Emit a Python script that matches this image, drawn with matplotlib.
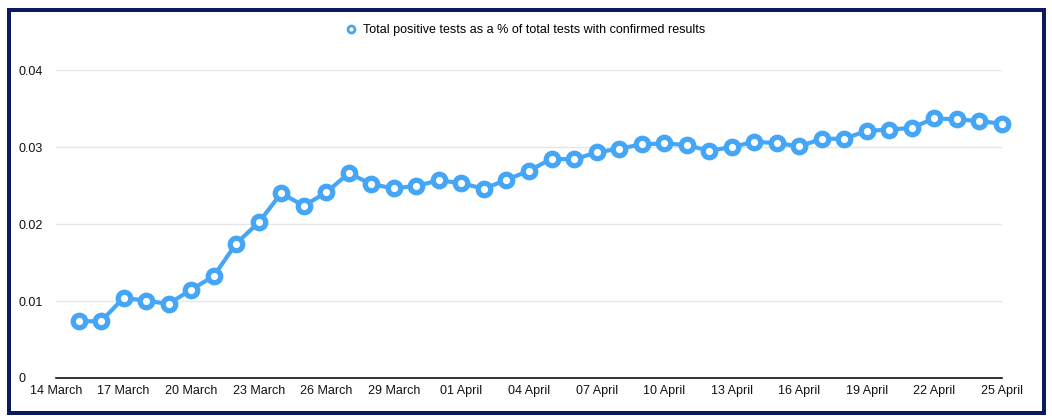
import matplotlib
matplotlib.use("Agg")
import matplotlib.pyplot as plt
from matplotlib.lines import Line2D
import matplotlib.patches as patches
import datetime as dt

plt.rcParams['font.family'] = ['Liberation Sans', 'DejaVu Sans']

series_label = "Total positive tests as a % of total tests with confirmed results"
start_date = dt.date(2020, 3, 15)
values = [0.00737, 0.00737, 0.0104, 0.01005, 0.00962, 0.01148, 0.01322, 0.01746,
          0.0202, 0.0240, 0.02236, 0.0241, 0.0266, 0.02518, 0.02462, 0.02496, 0.02566,
          0.02531, 0.02457, 0.02574, 0.02691, 0.02847, 0.02839, 0.0293, 0.02977,
          0.03034, 0.03047, 0.03025, 0.02951, 0.02999, 0.03068, 0.03051, 0.03008,
          0.03107, 0.03107, 0.03211, 0.03224, 0.0325, 0.03372, 0.03359, 0.03337, 0.03302]
dates = [start_date + dt.timedelta(days=i) for i in range(len(values))]
xtick_dates = [dt.date(2020, 3, 14) + dt.timedelta(days=3 * i) for i in range(15)]
xtick_labels = ["14 March", "17 March", "20 March", "23 March", "26 March", "29 March",
                "01 April", "04 April", "07 April", "10 April", "13 April", "16 April",
                "19 April", "22 April", "25 April"]
yticks = [0, 0.01, 0.02, 0.03, 0.04]
ytick_labels = ["0", "0.01", "0.02", "0.03", "0.04"]

W, H = 1052, 420
fig = plt.figure(figsize=(W / 100, H / 100), dpi=100)
fig.patch.set_facecolor('white')

# navy border (pixel coordinates, origin bottom-left)
border_color = '#0b1a5c'
fig.add_artist(patches.Rectangle((9 / W, 7 / H), (1044 - 9) / W, (410 - 7) / H,
                                 transform=fig.transFigure, fill=False,
                                 edgecolor=border_color, linewidth=4 * 0.72,
                                 joinstyle='miter', zorder=10))

ax = fig.add_axes([56 / W, 42 / H, (1002 - 56) / W, (378 - 70) / H])
blue = '#45a6f7'
ax.plot(dates, values, color=blue, linewidth=3, marker='o', markersize=9,
        markerfacecolor='white', markeredgecolor=blue, markeredgewidth=3.8,
        clip_on=False, zorder=3)

ax.set_xlim(dt.date(2020, 3, 14), dt.date(2020, 4, 25))
ax.set_ylim(0, 0.04)
ax.set_xticks(xtick_dates)
ax.set_xticklabels(xtick_labels)
ax.set_yticks(yticks)
ax.set_yticklabels(ytick_labels)
ax.tick_params(axis='both', length=0, labelsize=9, colors='#111111')
ax.tick_params(axis='x', pad=5)
ax.tick_params(axis='y', pad=27)
for lbl in ax.get_yticklabels():
    lbl.set_horizontalalignment('left')

ax.grid(axis='y', color='#e6e6e6', linewidth=1)
ax.set_axisbelow(True)
for s in ['left', 'right', 'top']:
    ax.spines[s].set_visible(False)
ax.spines['bottom'].set_color('#111111')
ax.spines['bottom'].set_linewidth(1.2)
ax.spines['bottom'].set_zorder(4)

handle = Line2D([], [], color='none', marker='o', markersize=5,
                markerfacecolor='white', markeredgecolor=blue, markeredgewidth=2)
fig.legend([handle], [series_label], loc='center', bbox_to_anchor=(525 / W, 1 - 30 / H),
           frameon=False, fontsize=9, handlelength=1, handletextpad=0.5)

fig.savefig('out.png', dpi=100)
